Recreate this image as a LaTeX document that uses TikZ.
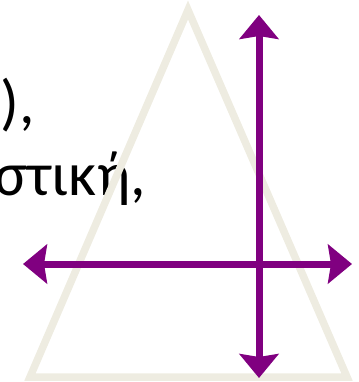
\documentclass[tikz,border=0pt]{standalone}
\usepackage{fontspec}
\setmainfont{Carlito}
\usepackage{xcolor}
\usetikzlibrary{arrows.meta,positioning}
\definecolor{shapebeige}{RGB}{238,236,225}
\definecolor{axispurple}{RGB}{128,0,128}

\begin{document}
\begin{tikzpicture}[
        x=1pt, y=-1pt,
        textline/.style={anchor=base east, inner sep=0pt, font=\fontsize{62}{68}\selectfont, text=black},
        tri/.style={draw=shapebeige, line width=7.5pt, line join=miter},
        axis/.style={{Stealth[length=24pt, width=39pt, inset=3pt]}-{Stealth[length=24pt, width=39pt, inset=3pt]}, draw=axispurple, line width=7pt}
    ]
    \useasboundingbox (0,0) rectangle (358,382);
    \clip (0,0) rectangle (358,382);

    \node[textline] (lineone) at (35,124) {),};
    \node[textline] (linetwo) at (146,195) {στική,};

    \coordinate (apex) at (188,10);
    \coordinate (baseleft) at (30,377);
    \coordinate (baseright) at (347,377);
    \draw[tri] (apex) -- (baseleft) -- (baseright) -- cycle;

    \coordinate (vtop) at (259,15);
    \coordinate (vbottom) at (259,378);
    \coordinate (hleft) at (23,264);
    \coordinate (hright) at (352,264);
    \draw[axis] (hleft) -- (hright);
    \draw[axis] (vtop) -- (vbottom);
\end{tikzpicture}
\end{document}
